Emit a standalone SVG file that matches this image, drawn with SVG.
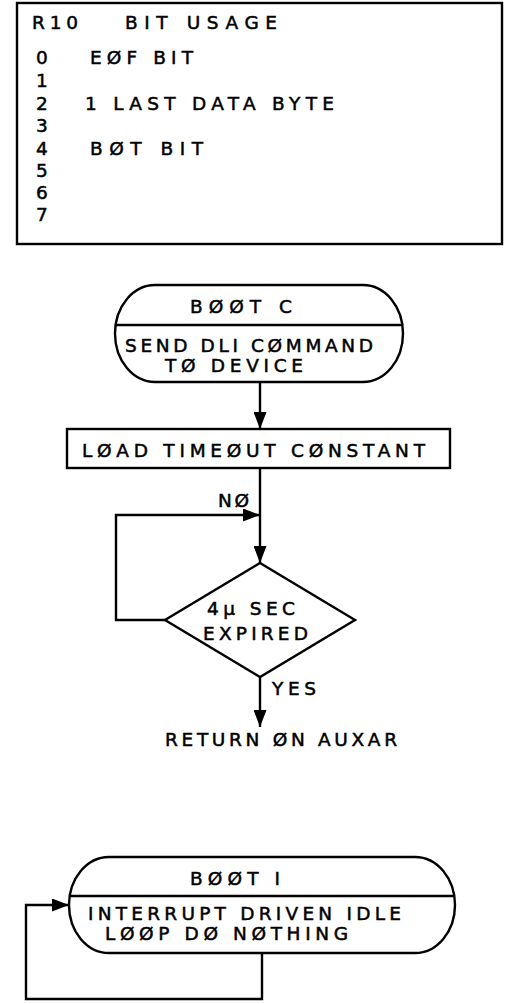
<svg xmlns="http://www.w3.org/2000/svg" width="507" height="1004" viewBox="0 0 507 1004">
<style>
.ln{fill:none;stroke:#000;stroke-width:2.4}
.sh{fill:#fff;stroke:#000;stroke-width:2.4}
text{font-family:"DejaVu Sans","Liberation Sans",sans-serif;font-size:18.5px;fill:#000;stroke:#000;stroke-width:0.5}
.c{text-anchor:middle}
</style>
<defs>
<marker id="ah" markerUnits="userSpaceOnUse" markerWidth="17" markerHeight="13" refX="17" refY="6.5" orient="auto">
<path d="M0,0 L17,6.5 L0,13 Z" fill="#000"/>
</marker>
</defs>
<rect width="507" height="1004" fill="#fff"/>
<g id="r10-table">
<rect class="sh" x="17" y="3" width="485" height="241"/>
<text x="32" y="29" textLength="46">R10</text>
<text x="125" y="29" textLength="152">BIT USAGE</text>
<text x="42" y="64" class="c">0</text>
<text x="42" y="87" class="c">1</text>
<text x="42" y="110" class="c">2</text>
<text x="42" y="132" class="c">3</text>
<text x="42" y="155" class="c">4</text>
<text x="42" y="177" class="c">5</text>
<text x="42" y="199" class="c">6</text>
<text x="42" y="221" class="c">7</text>
<text x="90" y="64" textLength="103">EØF BIT</text>
<text x="85" y="110" textLength="249">1 LAST DATA BYTE</text>
<text x="90" y="155" textLength="113">BØT BIT</text>
</g>
<g id="connectors">
<line class="ln" x1="260" y1="382" x2="260" y2="429" marker-end="url(#ah)"/>
<line class="ln" x1="260" y1="468" x2="260" y2="563" marker-end="url(#ah)"/>
<polyline class="ln" points="165,620 116,620 116,515 260,515" marker-end="url(#ah)"/>
<line class="ln" x1="260" y1="677" x2="260" y2="727" marker-end="url(#ah)"/>
<polyline class="ln" points="262,953 262,999 26,999 26,905 69,905" marker-end="url(#ah)"/>
<text x="218" y="507" textLength="31">NØ</text>
<text x="272" y="695" textLength="44">YES</text>
</g>
<g id="boot-c">
<path class="sh" d="M155,285 H363 A40,48.5 0 0 1 363,382 H155 A40,48.5 0 0 1 155,285 Z"/>
<line class="ln" x1="115.6" y1="325" x2="402.4" y2="325"/>
<text x="190" y="313" textLength="102">BØØT C</text>
<text x="125" y="352" textLength="248">SEND DLI CØMMAND</text>
<text x="165" y="372" textLength="138">TØ DEVICE</text>
</g>
<g id="load-timeout">
<rect class="sh" x="67" y="429" width="383" height="39"/>
<text x="82" y="457" textLength="343">LØAD TIMEØUT CØNSTANT</text>
</g>
<g id="expired">
<polygon class="sh" points="260,563 355,620 260,677 165,620"/>
<text x="207" y="615" textLength="88">4μ SEC</text>
<text x="203" y="640" textLength="105">EXPIRED</text>
</g>
<g id="return">
<text x="165" y="746" textLength="232">RETURN ØN AUXAR</text>
</g>
<g id="boot-i">
<path class="sh" d="M109,857 H415 A40,48 0 0 1 415,953 H109 A40,48 0 0 1 109,857 Z"/>
<line class="ln" x1="69.7" y1="896" x2="454.3" y2="896"/>
<text x="190" y="885" textLength="90">BØØT I</text>
<text x="88" y="920" textLength="313">INTERRUPT DRIVEN IDLE</text>
<text x="105" y="940" textLength="243">LØØP DØ NØTHING</text>
</g>
</svg>
